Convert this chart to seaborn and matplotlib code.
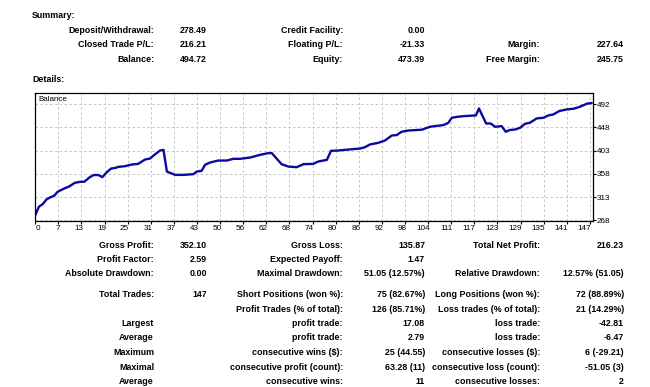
import matplotlib
matplotlib.use("Agg")
import matplotlib.pyplot as plt
import matplotlib.transforms as mtransforms
import seaborn as sns
import pandas as pd

# balance curve (trade number, balance)
trade_no = [0, 1, 2, 3, 4, 5, 6, 8, 9, 10.5, 12, 13, 14.5, 15.5, 16.7, 17.8, 19, 20.1,
            21.3, 22, 23.8, 25.4, 27.3, 29.1, 30.4, 31.7, 33.1, 34, 34.9, 37.1, 39.3,
            41.9, 42.8, 44.1, 45, 46.3, 48.5, 50.8, 52.5, 54.3, 57, 59.6, 61.8, 62.7,
            65.3, 67.1, 69.3, 71.1, 73.7, 75, 77.3, 78.4, 80.3, 83, 86.1, 87.4, 88.7,
            90.9, 92.7, 94.5, 95.8, 97.1, 98.9, 102.4, 104.6, 106, 108.2, 109.5, 110.4,
            112.1, 113.9, 116.8, 117.6, 119.5, 120.7, 121.9, 123.6, 124.7, 125.7, 127.2,
            128.5, 129.8, 131.1, 132.9, 134.7, 136, 137.3, 138.9, 140.9, 142.7, 144.4,
            146.2, 147.5]
balance = [278.49, 295, 300, 309, 313, 316, 324, 331, 334, 341, 343, 343, 352, 356, 356,
           352, 361.5, 368.4, 369.8, 371.7, 373, 376, 377.5, 385.8, 387.7, 395.5, 403.2,
           404.5, 362.6, 356.3, 356.3, 357.6, 362.6, 364, 375.6, 380, 383.9, 383.9, 387.2,
           387.2, 389.7, 394.9, 398.2, 398.2, 376.9, 372.3, 371.1, 376.9, 377.5, 382,
           385.2, 402.6, 403.2, 405.1, 407, 409.7, 414.8, 418, 422.5, 432.1, 433, 439.3,
           441.8, 443.2, 448.9, 450.3, 452.2, 456.7, 466.3, 468.3, 469.6, 470.8, 484.3,
           455.3, 455.3, 448.9, 450.3, 439.3, 442.6, 443.7, 447, 454.7, 456.7, 465, 466.3,
           470.8, 472.7, 479.3, 482.4, 483.7, 487.6, 493.4, 494.72]

x_tick_labels = ["0", "7", "13", "19", "25", "31", "37", "43", "50", "56", "62", "68", "74",
                 "80", "86", "92", "98", "104", "111", "117", "123", "129", "135", "141", "147"]
y_ticks = [268.4, 313.2, 358.0, 402.8, 447.6, 492.4]

summary_rows = [
    ["Deposit/Withdrawal:", "278.49", "Credit Facility:", "0.00", "", ""],
    ["Closed Trade P/L:", "216.21", "Floating P/L:", "-21.33", "Margin:", "227.64"],
    ["Balance:", "494.72", "Equity:", "473.39", "Free Margin:", "245.75"],
]
details_rows = [
    ["Gross Profit:", "352.10", "Gross Loss:", "135.87", "Total Net Profit:", "216.23"],
    ["Profit Factor:", "2.59", "Expected Payoff:", "1.47", "", ""],
    ["Absolute Drawdown:", "0.00", "Maximal Drawdown:", "51.05 (12.57%)",
     "Relative Drawdown:", "12.57% (51.05)"],
    ["Total Trades:", "147", "Short Positions (won %):", "75 (82.67%)",
     "Long Positions (won %):", "72 (88.89%)"],
    ["", "", "Profit Trades (% of total):", "126 (85.71%)",
     "Loss trades (% of total):", "21 (14.29%)"],
    ["Largest", "", "profit trade:", "17.08", "loss trade:", "-42.81"],
    ["Average", "", "profit trade:", "2.79", "loss trade:", "-6.47"],
    ["Maximum", "", "consecutive wins ($):", "25 (44.55)",
     "consecutive losses ($):", "6 (-29.21)"],
    ["Maximal", "", "consecutive profit (count):", "63.28 (11)",
     "consecutive loss (count):", "-51.05 (3)"],
    ["Average", "", "consecutive wins:", "11", "consecutive losses:", "2"],
]

sns.set_theme(style="white")
plt.rcParams['font.family'] = ['Liberation Sans', 'DejaVu Sans']

W, H = 650, 387
fig = plt.figure(figsize=(6.5, 3.87), dpi=100)
fig.patch.set_facecolor("white")


def put(x, y, s, ha="right", weight="bold", size=6.4):
    fig.text(x / W, 1 - y / H, s, ha=ha, va="center", fontsize=size,
             fontweight=weight, color="black")


col_right = [154, 207, 343, 425, 540, 624]

put(32, 16, "Summary:", ha="left")
for row, y in zip(summary_rows, [30.5, 44.5, 59.5]):
    for s, x in zip(row, col_right):
        if s:
            put(x, y, s)
put(32, 79, "Details:", ha="left")

row_y = [245, 260, 274, 294.5, 309.5, 323.5, 338, 352.5, 367, 381]
for row, y in zip(details_rows, row_y):
    for s, x in zip(row, col_right):
        if s:
            put(x, y, s)

# balance chart
ax = fig.add_axes([35.2 / W, 1 - 220.5 / H, 557.5 / W, 127.5 / H])
df = pd.DataFrame({"trade": trade_no, "balance": balance})
sns.lineplot(data=df, x="trade", y="balance", ax=ax, color="#0a0aa0", linewidth=1.7)

ax.set_xlim(0, 147.75)
ax.set_ylim(268.4, 514)
x_pos = [i * 147 / 24 for i in range(len(x_tick_labels))]
ax.set_xticks(x_pos)
ax.set_xticklabels(x_tick_labels)
ax.set_yticks(y_ticks)
ax.set_yticklabels([f"{v:.0f}" for v in y_ticks])
ax.yaxis.tick_right()
ax.tick_params(axis="both", which="both", direction="out", length=2, width=0.8,
               labelsize=5.9, pad=1, colors="black")
ax.tick_params(axis="y", left=False, right=True)
ax.tick_params(axis="x", bottom=True)

# MT4 puts the tick labels just left of the grid line
offset = mtransforms.ScaledTranslation(0.015, 0, fig.dpi_scale_trans)
for i, lbl in enumerate(ax.get_xticklabels()):
    if i == 0:
        lbl.set_ha("left")
    else:
        lbl.set_ha("right")
        lbl.set_transform(lbl.get_transform() + offset)

ax.grid(True, color="#c4c4c4", linestyle=(0, (2.5, 2.5)), linewidth=0.7)
for sp in ax.spines.values():
    sp.set_color("black")
    sp.set_linewidth(0.9)
ax.set_xlabel("")
ax.set_ylabel("")
ax.text(0.005, 0.975, "Balance", transform=ax.transAxes, ha="left", va="top",
        fontsize=5.8, color="black")

fig.savefig("out.png", dpi=100, facecolor="white")
